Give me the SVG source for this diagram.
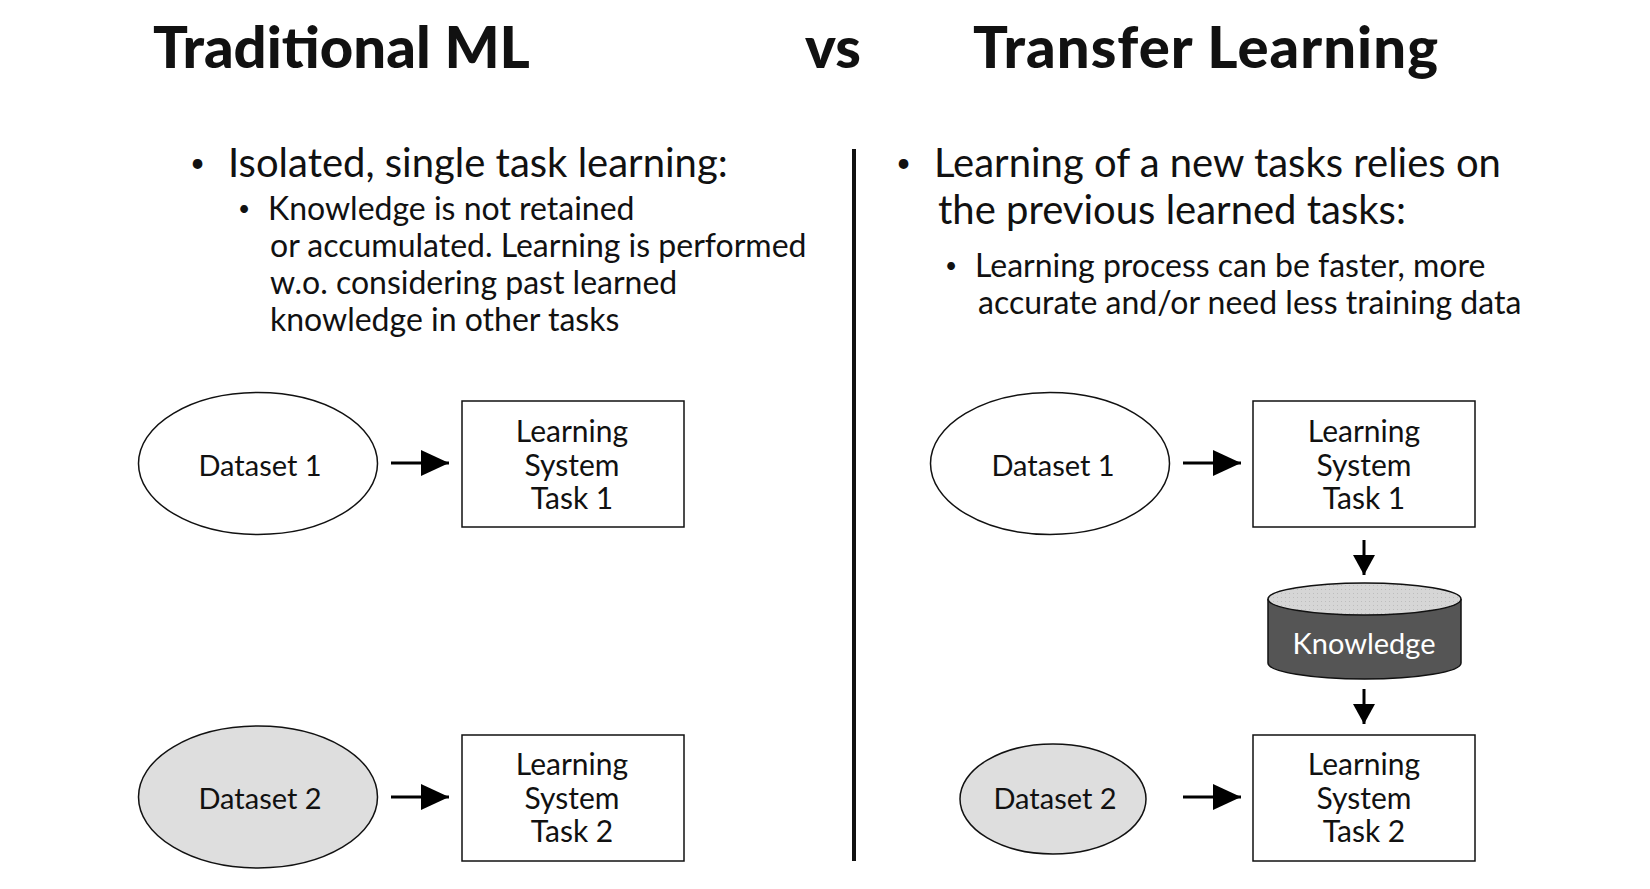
<svg xmlns="http://www.w3.org/2000/svg" width="1650" height="889" viewBox="0 0 1650 889">
<style>
text { font-family: Lato, "Noto Sans", sans-serif; fill: #111; }
.title { font-size: 58px; font-weight: 900; }
.b1 { font-size: 40px; }
.b2 { font-size: 32px; }
.dot1 { font-size: 26px; }
.dot2 { font-size: 21px; }
.node { font-size: 30px; text-anchor: middle; }
.ds { font-size: 29px; text-anchor: middle; }
.shape { stroke: #111; stroke-width: 1.5; }
.conn { stroke: #000; stroke-width: 3; fill: none; }
</style>
<defs>
<marker id="ah" markerWidth="28" markerHeight="26" refX="28" refY="13" orient="auto" markerUnits="userSpaceOnUse" viewBox="0 0 28 26">
<path d="M0,0 L28,13 L0,26 Z" fill="#000"/>
</marker>
<marker id="ahs" markerWidth="20" markerHeight="22" refX="20" refY="11" orient="auto" markerUnits="userSpaceOnUse" viewBox="0 0 20 22">
<path d="M0,0 L20,11 L0,22 Z" fill="#000"/>
</marker>
<pattern id="dots" width="4" height="4" patternUnits="userSpaceOnUse">
<rect width="4" height="4" fill="#d6d6d6"/>
<rect x="1" y="1" width="1" height="1" fill="#bdbdbd"/>
</pattern>
</defs>
<rect width="1650" height="889" fill="#fff"/>

<g id="headings">
<text class="title" x="153" y="68">Traditional ML</text>
<text class="title" x="805" y="68">vs</text>
<text class="title" x="973" y="68" textLength="465">Transfer Learning</text>
</g>

<g id="divider"><line x1="854" y1="149" x2="854" y2="861" stroke="#111" stroke-width="4"/></g>

<g id="left-text">
<text class="dot1" x="190" y="172">•</text>
<text class="b1" x="228" y="177">Isolated, single task learning:</text>
<text class="dot2" x="238" y="216">•</text>
<text class="b2" x="268" y="220">Knowledge is not retained</text>
<text class="b2" x="270" y="257">or accumulated. Learning is performed</text>
<text class="b2" x="270" y="294">w.o. considering past learned</text>
<text class="b2" x="270" y="331">knowledge in other tasks</text>
</g>

<g id="right-text">
<text class="dot1" x="896" y="172">•</text>
<text class="b1" x="934" y="177">Learning of a new tasks relies on</text>
<text class="b1" x="938" y="224">the previous learned tasks:</text>
<text class="dot2" x="945" y="273">•</text>
<text class="b2" x="975" y="277">Learning process can be faster, more</text>
<text class="b2" x="978" y="314">accurate and/or need less training data</text>
</g>

<g id="connectors">
<line class="conn" x1="391" y1="463" x2="449" y2="463" marker-end="url(#ah)"/>
<line class="conn" x1="391" y1="797" x2="449" y2="797" marker-end="url(#ah)"/>
<line class="conn" x1="1183" y1="463" x2="1241" y2="463" marker-end="url(#ah)"/>
<line class="conn" x1="1183" y1="797" x2="1241" y2="797" marker-end="url(#ah)"/>
<line class="conn" x1="1364" y1="540" x2="1364" y2="575" marker-end="url(#ahs)"/>
<line class="conn" x1="1364" y1="689" x2="1364" y2="724" marker-end="url(#ahs)"/>
</g>

<g id="l-dataset1">
<ellipse class="shape" cx="258" cy="463.5" rx="119.5" ry="71" fill="#fff"/>
<text class="ds" x="260" y="476">Dataset 1</text>
</g>
<g id="l-task1">
<rect class="shape" x="462" y="401" width="222" height="126" fill="#fff"/>
<text class="node" x="572" y="442">Learning</text>
<text class="node" x="572" y="476">System</text>
<text class="node" x="572" y="509">Task 1</text>
</g>
<g id="l-dataset2">
<ellipse class="shape" cx="258" cy="797" rx="119.5" ry="71" fill="#dedede"/>
<text class="ds" x="260" y="809">Dataset 2</text>
</g>
<g id="l-task2">
<rect class="shape" x="462" y="735" width="222" height="126" fill="#fff"/>
<text class="node" x="572" y="775">Learning</text>
<text class="node" x="572" y="809">System</text>
<text class="node" x="572" y="842">Task 2</text>
</g>

<g id="r-dataset1">
<ellipse class="shape" cx="1050" cy="463.5" rx="119.5" ry="71" fill="#fff"/>
<text class="ds" x="1053" y="476">Dataset 1</text>
</g>
<g id="r-task1">
<rect class="shape" x="1253" y="401" width="222" height="126" fill="#fff"/>
<text class="node" x="1364" y="442">Learning</text>
<text class="node" x="1364" y="476">System</text>
<text class="node" x="1364" y="509">Task 1</text>
</g>
<g id="knowledge">
<path class="shape" d="M1268,599 L1268,663 A96.5,16 0 0 0 1461,663 L1461,599" fill="#555"/>
<ellipse class="shape" cx="1364.5" cy="599" rx="96.5" ry="16" fill="url(#dots)"/>
<text class="ds" x="1364" y="654" style="fill:#fff">Knowledge</text>
</g>
<g id="r-dataset2">
<ellipse class="shape" cx="1053" cy="799" rx="93" ry="55" fill="#dedede"/>
<text class="ds" x="1055" y="809">Dataset 2</text>
</g>
<g id="r-task2">
<rect class="shape" x="1253" y="735" width="222" height="126" fill="#fff"/>
<text class="node" x="1364" y="775">Learning</text>
<text class="node" x="1364" y="809">System</text>
<text class="node" x="1364" y="842">Task 2</text>
</g>
</svg>
